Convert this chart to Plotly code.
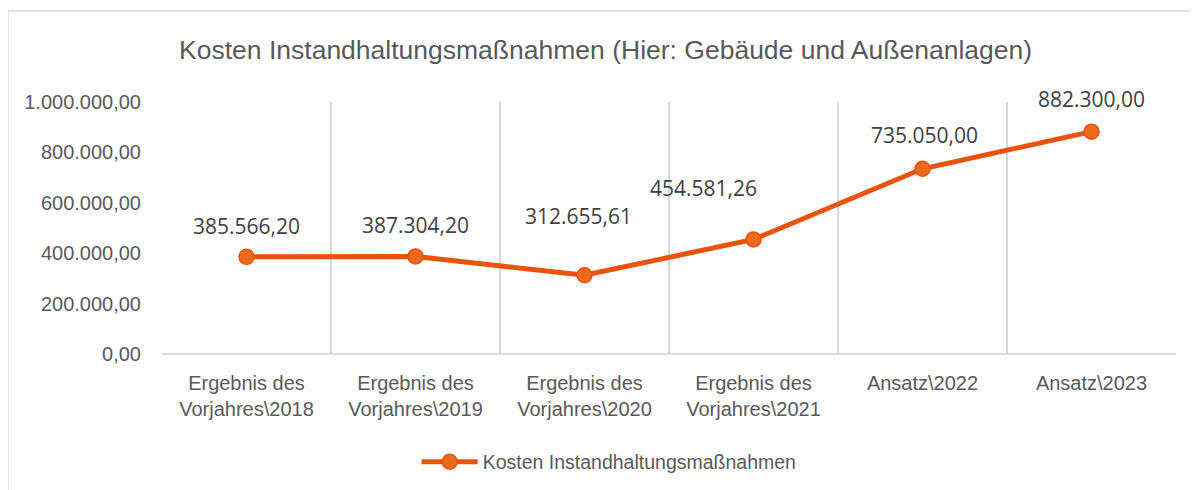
import plotly.graph_objects as go

categories = [
    "Ergebnis des<br>Vorjahres\\2018",
    "Ergebnis des<br>Vorjahres\\2019",
    "Ergebnis des<br>Vorjahres\\2020",
    "Ergebnis des<br>Vorjahres\\2021",
    "Ansatz\\2022",
    "Ansatz\\2023",
]
values = [385566.20, 387304.20, 312655.61, 454581.26, 735050.00, 882300.00]
y_ticks = [0, 200000, 400000, 600000, 800000, 1000000]

# label offsets (pixels), styling only
label_dx = [0, 0, -6, -50, 2, 0]
label_dy = [31, 31, 59, 51, 34, 33]

series_name = "Kosten Instandhaltungsmaßnahmen"
title_text = "Kosten Instandhaltungsmaßnahmen (Hier: Gebäude und Außenanlagen)"

LINE = "#E8530E"
MARK = "#EB6A1E"
GRID = "#D9D9D9"
TXT = "#595959"
SANS = "Liberation Sans, Arial, sans-serif"

xpos = list(range(len(categories)))

fig = go.Figure()
fig.add_trace(go.Scatter(
    x=xpos, y=values, mode="lines+markers", name=series_name,
    line=dict(color=LINE, width=5),
    marker=dict(size=15, color=MARK, line=dict(color=LINE, width=1.5)),
))

def de_fmt(v):
    s = f"{v:,.2f}"
    return s.replace(",", "X").replace(".", ",").replace("X", ".")

for i, v in enumerate(values):
    fig.add_annotation(
        x=xpos[i], y=v, text=de_fmt(v), showarrow=False,
        xshift=label_dx[i], yshift=label_dy[i],
        font=dict(family="Open Sans, sans-serif", size=21, color="#404040"),
    )

# outer chart border
fig.add_shape(type="rect", xref="paper", yref="paper",
              x0=-0.152, x1=1.1, y0=-2, y1=1.361,
              line=dict(color=GRID, width=1.5), fillcolor="rgba(0,0,0,0)", layer="below")

fig.update_layout(
    width=1198, height=490,
    margin=dict(l=154, r=30, t=94, b=144, autoexpand=False),
    paper_bgcolor="white", plot_bgcolor="white",
    separators=",.",
    title=dict(text=title_text, x=0.4988, xanchor="center", y=1 - 42 / 490, yanchor="middle",
               yref="container",
               font=dict(family=SANS, size=26.5, color=TXT)),
    showlegend=True,
    legend=dict(orientation="h", x=0.441, xanchor="center", y=-0.429, yanchor="middle",
                font=dict(family=SANS, size=19.5, color=TXT), itemwidth=56),
    xaxis=dict(
        range=[-0.5, len(categories) - 0.5], automargin=False,
        tickmode="array", tickvals=xpos, ticktext=categories,
        showgrid=False, zeroline=False, showline=False, ticks="",
        ticklabelstandoff=15,
        tickfont=dict(family=SANS, size=20, color=TXT),
        minor=dict(tickmode="array",
                   tickvals=[i - 0.5 for i in range(len(categories) + 1)],
                   showgrid=True, gridcolor=GRID, gridwidth=1.5, ticks=""),
    ),
    yaxis=dict(
        range=[0, 1000000], tickmode="array", tickvals=y_ticks, automargin=False,
        tickformat=",.2f", showgrid=False, zeroline=True, zerolinecolor=GRID, zerolinewidth=1.5,
        showline=False, ticks="", ticklabelstandoff=20,
        tickfont=dict(family=SANS, size=20, color=TXT),
    ),
)

fig.write_html("out.html")
